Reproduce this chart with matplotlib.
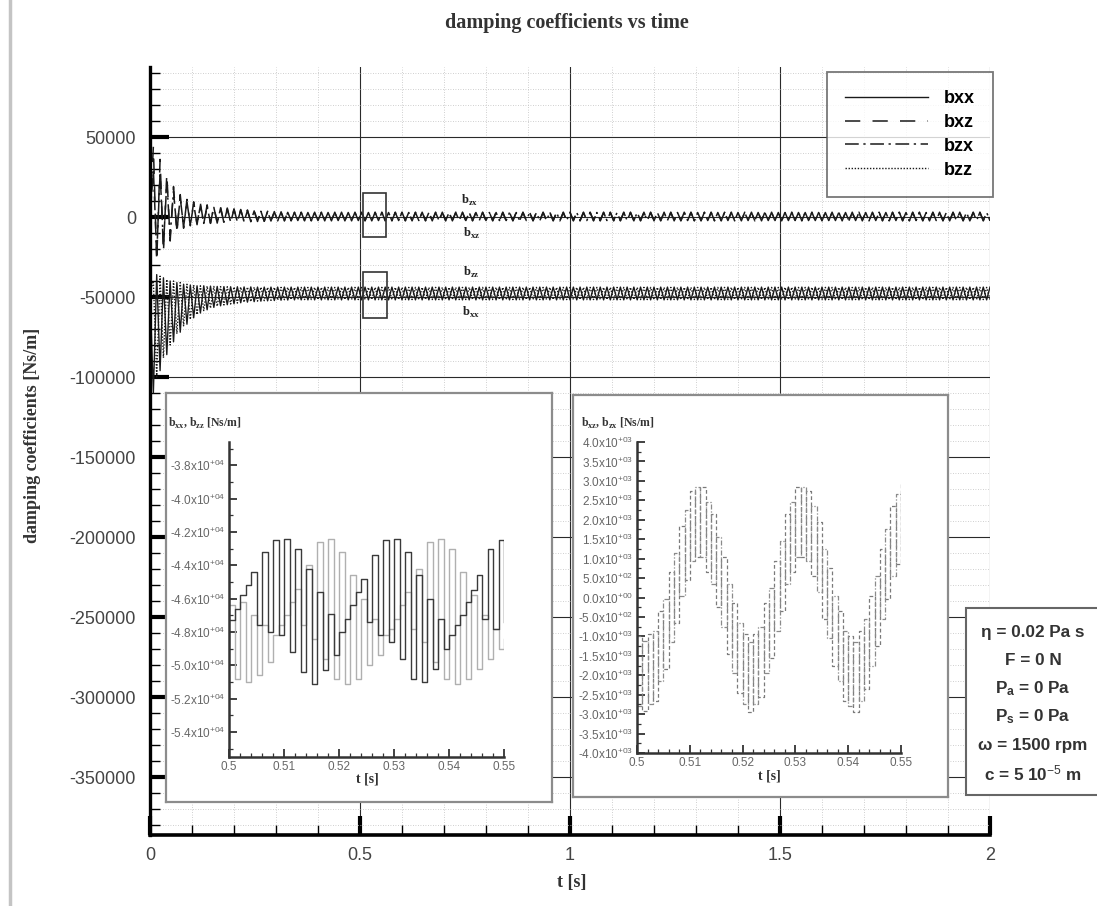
import numpy as np
import matplotlib
matplotlib.use('Agg')
import matplotlib.pyplot as plt
from matplotlib.ticker import MultipleLocator, FuncFormatter
from matplotlib.patches import Rectangle
from matplotlib.lines import Line2D

plt.rcParams['mathtext.fontset'] = 'custom'
plt.rcParams['mathtext.rm'] = 'Liberation Sans'
plt.rcParams['mathtext.it'] = 'Liberation Sans:italic'
plt.rcParams['mathtext.bf'] = 'Liberation Sans:bold'

SANS = 'Liberation Sans'
SERIF = 'Liberation Serif'

# ---------------- data (values in kNs/m) ----------------
# main chart: successive extremes of the visible oscillation, 0 .. 2 s
t_main = np.linspace(0.0, 2.0, 251)
bxz_main = [0.0, 44.0, -28.0, 36.0, -22.0, 27.0, -15.0, 19.0, -10.0, 14.0,
            -7.0, 11.0, -5.5, 9.5, -4.8, 8.5, -4.3, 7.6, -4.0, 6.8,
            -3.8, 6.2, -3.6, 5.6, -3.4, 5.1, -3.2, 4.7, -3.0, 4.4,
            -2.9, 4.1, -2.8, 3.8, -2.7, 3.6, -2.6, 3.4, -2.5, 3.2,
            -2.4, 3.1] + [-2.4, 3.0] * 104 + [-2.4]
bzx_main = [0.0, 30.0, -24.0, 28.0, -18.0, 22.0, -12.0, 16.0, -8.0, 12.0,
            -6.0, 9.5, -5.0, 8.0, -4.4, 7.2, -4.0, 6.5, -3.7, 6.0,
            -3.5, 5.5, -3.3, 5.0, -3.1, 4.6, -3.0, 4.3, -2.9, 4.0,
            -2.8, 3.8, -2.7, 3.6, -2.6, 3.4, -2.5, 3.2, -2.4, 3.0,
            -2.3, 2.9] + [-2.2, 2.8] * 104 + [-2.2]
bxx_main = [-47.0, -110.0, -36.0, -96.0, -38.0, -86.0, -40.0, -78.0, -41.0, -72.0,
            -42.0, -67.0, -42.5, -63.0, -43.0, -60.0, -43.0, -58.0, -43.2, -56.5,
            -43.4, -55.5, -43.5, -54.8, -43.6, -54.2, -43.6, -53.6, -43.7, -53.2,
            -43.7, -52.9, -43.8, -52.6, -43.8, -52.4, -43.8, -52.2, -43.8, -52.0,
            -43.8, -51.9] + [-43.8, -51.8] * 104 + [-43.8]
bzz_main = [-47.0, -40.0, -100.0, -37.0, -88.0, -39.0, -80.0, -40.0, -73.0, -41.0,
            -68.0, -42.0, -64.0, -42.5, -61.0, -43.0, -58.5, -43.2, -57.0, -43.4,
            -55.8, -43.5, -55.0, -43.6, -54.4, -43.7, -53.8, -43.8, -53.3, -43.8,
            -52.9, -43.9, -52.6, -43.9, -52.3, -44.0, -52.1, -44.0, -51.9, -44.0,
            -51.7, -44.0] + [-51.6, -44.0] * 104 + [-51.6]

# insets: 0.5 .. 0.55 s, one level per millisecond
t_zoom = np.linspace(0.5, 0.55, 51)
bxx_zoom = [-47.3, -46.6, -45.8, -45.2, -44.4, -47.6, -43.2, -48.0, -42.5, -48.2,
            -42.4, -49.2, -43.0, -50.4, -44.2, -51.1, -45.6, -50.3, -46.9, -49.4,
            -48.0, -47.2, -46.4, -45.6, -44.8, -47.4, -43.4, -48.2, -42.5, -48.6,
            -42.4, -49.6, -43.2, -50.8, -44.6, -51.0, -46.0, -50.2, -47.2, -49.0,
            -48.2, -47.6, -47.0, -46.2, -45.5, -44.6, -47.2, -43.0, -47.8, -42.5,
            -47.4]
bzz_zoom = [-46.4, -50.8, -46.2, -51.0, -47.0, -50.6, -47.6, -49.8, -48.2, -47.6,
            -47.0, -46.2, -45.4, -47.6, -44.0, -48.4, -42.6, -49.6, -42.4, -50.8,
            -43.2, -51.1, -44.6, -50.8, -46.0, -50.0, -47.2, -49.4, -48.2, -47.8,
            -47.2, -46.4, -45.6, -47.8, -44.2, -48.6, -42.6, -49.8, -42.4, -50.8,
            -43.0, -51.1, -44.4, -50.8, -45.8, -50.2, -47.0, -49.6, -47.8, -49.0,
            -48.4]
bxz_zoom = [-1.0, -2.93, -0.95, -2.65, -0.35, -1.85, 0.65, -0.65, 1.85, 0.45,
            2.75, 1.05, 2.85, 0.65, 2.15, -0.25, 1.05, -1.45, -0.15, -2.45,
            -0.95, -2.95, -0.95, -2.55, -0.15, -1.55, 0.95, -0.35, 2.15, 0.65,
            2.85, 1.05, 2.75, 0.55, 1.95, -0.55, 0.75, -1.75, -0.35, -2.65,
            -1.0, -2.95, -0.85, -2.35, 0.05, -1.25, 1.25, -0.05, 2.35, 0.85,
            2.95]
bzx_zoom = [-2.8, -1.13, -2.75, -0.85, -2.15, -0.05, -1.15, 1.15, 0.05, 2.25,
            0.95, 2.85, 1.05, 2.45, 0.35, 1.55, -0.75, 0.35, -1.95, -0.65,
            -2.75, -1.15, -2.75, -0.75, -1.95, 0.25, -0.85, 1.45, 0.35, 2.45,
            1.05, 2.85, 0.95, 2.35, 0.15, 1.25, -1.05, 0.05, -2.15, -0.85,
            -2.8, -1.15, -2.65, -0.55, -1.75, 0.55, -0.55, 1.75, 0.55, 2.65,
            1.15]

series_names = ['bxx', 'bxz', 'bzx', 'bzz']
params_lines = ['\u03b7 = 0.02 Pa s', 'F = 0 N', 'P$_{\\mathregular{a}}$ = 0 Pa',
                'P$_{\\mathregular{s}}$ = 0 Pa', '\u03c9 = 1500 rpm', 'c = 5 10$^{-5}$ m']

K = 1000.0  # kNs/m -> Ns/m

W, H = 1097, 906
def fx(px):
    return px / W
def fy(py):
    return 1 - py / H

fig = plt.figure(figsize=(W / 100, H / 100), dpi=100, facecolor='white')

# page edge artifact of the scan
fig.add_artist(Line2D([fx(10), fx(10)], [0, 1], transform=fig.transFigure,
                      color='#c4c4c4', lw=2.5, zorder=0))

# ---------------- main axes ----------------
ax = fig.add_axes([fx(150), fy(835), (990 - 150) / W, (835 - 67) / H], zorder=1)
styles = {'bxx': dict(ls='-', color='#1a1a1a', lw=1.0),
          'bxz': dict(ls=(0, (10, 8)), color='#1a1a1a', lw=1.1),
          'bzx': dict(ls=(0, (9, 3, 1.5, 3)), color='#1a1a1a', lw=1.1),
          'bzz': dict(ls=(0, (1, 1.2)), color='#1a1a1a', lw=1.0)}
data_main = {'bxx': bxx_main, 'bxz': bxz_main, 'bzx': bzx_main, 'bzz': bzz_main}
handles = []
for name in series_names:
    h, = ax.plot(t_main, np.asarray(data_main[name]) * K, label=name, **styles[name])
    handles.append(h)

ax.set_xlim(0, 2)
ax.set_ylim(-386250, 93750)
ax.xaxis.set_major_locator(MultipleLocator(0.5))
ax.xaxis.set_minor_locator(MultipleLocator(0.1))
ax.yaxis.set_major_locator(MultipleLocator(50000))
ax.yaxis.set_minor_locator(MultipleLocator(10000))
ax.xaxis.set_major_formatter(FuncFormatter(lambda v, p: f'{v:g}'))
ax.yaxis.set_major_formatter(FuncFormatter(lambda v, p: f'{int(round(v))}'))
ax.grid(which='major', color='#2a2a2a', lw=0.8, ls='-')
ax.grid(which='minor', color='#c0c0c0', lw=0.6, ls=(0, (1, 2)))
ax.set_axisbelow(True)
ax.tick_params(which='major', direction='in', length=14, width=3, color='black',
               labelsize=13, labelcolor='#444', top=False, right=False)
ax.tick_params(which='minor', direction='in', length=7, width=1.0, color='black',
               top=False, right=False)
ax.tick_params(axis='y', which='major', pad=10)
ax.tick_params(axis='x', which='major', pad=9)
for lab in ax.get_xticklabels() + ax.get_yticklabels():
    lab.set_fontfamily(SANS)
ax.spines['top'].set_visible(False)
ax.spines['right'].set_visible(False)
ax.spines['left'].set_linewidth(2.4)
ax.spines['bottom'].set_linewidth(2.6)

# zoom region boxes and labels
ax.add_patch(Rectangle((0.507, -12500), 0.055, 27500, fill=False, ec='#333', lw=1.2, zorder=3))
ax.add_patch(Rectangle((0.507, -63000), 0.058, 28500, fill=False, ec='#333', lw=1.2, zorder=3))
lab_kw = dict(fontfamily=SERIF, fontweight='bold', fontsize=9, ha='center', va='center', color='#222')
ax.text(0.762, 10600, 'b$_{\\mathregular{zx}}$', **lab_kw)
ax.text(0.765, -10000, 'b$_{\\mathregular{xz}}$', **lab_kw)
ax.text(0.765, -34400, 'b$_{\\mathregular{zz}}$', **lab_kw)
ax.text(0.765, -59400, 'b$_{\\mathregular{xx}}$', **lab_kw)

leg = ax.legend(handles=handles, loc='upper right',
                bbox_to_anchor=((993 - 150) / 840, (835 - 72) / 768),
                borderaxespad=0, frameon=True, fancybox=False, handlelength=4.6, handletextpad=0.9,
                labelspacing=0.38, borderpad=1.0,
                prop={'family': SANS, 'weight': 'bold', 'size': 13})
leg.get_frame().set_edgecolor('#555')
leg.get_frame().set_linewidth(1.3)
leg.set_zorder(6)

# ---------------- insets ----------------
def sci_fmt(v, p):
    if abs(v) < 1e-9:
        return '0.0x10$^{+00}$'
    e = int(np.floor(np.log10(abs(v)) + 1e-9))
    m = round(v / 10 ** e, 1)
    if abs(m) >= 10:
        m /= 10
        e += 1
    return f'{m:.1f}x10$^{{{e:+03d}}}$'

def panel(rect):
    p = fig.add_axes(rect, zorder=3)
    p.set_xticks([]); p.set_yticks([])
    for s in p.spines.values():
        s.set_color('#8c8c8c'); s.set_linewidth(1.6)
    p.set_facecolor('white')
    return p

def inner(rect, ylim, ymaj, ymin):
    a = fig.add_axes(rect, zorder=4)
    a.set_facecolor('white')
    a.set_xlim(0.5, 0.55)
    a.set_ylim(*ylim)
    a.xaxis.set_major_locator(MultipleLocator(0.01))
    a.xaxis.set_minor_locator(MultipleLocator(0.002))
    a.yaxis.set_major_locator(MultipleLocator(ymaj))
    a.yaxis.set_minor_locator(MultipleLocator(ymin))
    a.xaxis.set_major_formatter(FuncFormatter(lambda v, p: f'{round(v, 3):g}'))
    a.yaxis.set_major_formatter(FuncFormatter(sci_fmt))
    a.tick_params(which='major', direction='in', length=6, width=1.3, color='#333',
                  labelsize=8.5, labelcolor='#666', pad=3)
    a.tick_params(which='minor', direction='in', length=3, width=0.9, color='#333')
    for lab in a.get_xticklabels() + a.get_yticklabels():
        lab.set_fontfamily(SANS)
    a.spines['top'].set_visible(False)
    a.spines['right'].set_visible(False)
    a.spines['left'].set_linewidth(1.8); a.spines['left'].set_color('#333')
    a.spines['bottom'].set_linewidth(1.8); a.spines['bottom'].set_color('#333')
    return a

panel([fx(166), fy(802), (552 - 166) / W, (802 - 393) / H])
panel([fx(573), fy(797), (948 - 573) / W, (797 - 395) / H])

a1 = inner([fx(229), fy(757), (504 - 229) / W, (757 - 442) / H], (-55500, -36600), 2000, 1000)
a1.plot(t_zoom, np.asarray(bzz_zoom) * K, drawstyle='steps-post', color='#b0b0b0', lw=1.0)
a1.plot(t_zoom, np.asarray(bxx_zoom) * K, drawstyle='steps-post', color='#3a3a3a', lw=1.0)

a2 = inner([fx(637), fy(753), (901 - 637) / W, (753 - 442) / H], (-4000, 4000), 500, 250)
a2.plot(t_zoom, np.asarray(bxz_zoom) * K, drawstyle='steps-post', color='#7a7a7a', lw=0.9,
        ls=(0, (3, 2)))
a2.plot(t_zoom, np.asarray(bzx_zoom) * K, drawstyle='steps-post', color='#8a8a8a', lw=0.9,
        ls=(0, (4, 1.5, 1, 1.5)))

ser_kw = dict(fontfamily=SERIF, fontweight='bold', color='#333', zorder=10)
fig.text(fx(168), fy(423), 'b$_{\\mathregular{xx}}$, b$_{\\mathregular{zz}}$ [Ns/m]', fontsize=8.5,
         ha='left', va='center', **ser_kw)
fig.text(fx(581), fy(423), 'b$_{\\mathregular{xz}}$, b$_{\\mathregular{zx}}$ [Ns/m]', fontsize=8.5,
         ha='left', va='center', **ser_kw)
fig.text(fx(367), fy(779), 't [s]', fontsize=10, ha='center', va='center', **ser_kw)
fig.text(fx(769), fy(776), 't [s]', fontsize=10, ha='center', va='center', **ser_kw)

# ---------------- titles / labels ----------------
fig.text(fx(567), fy(23), 'damping coefficients vs time', fontsize=14.5, ha='center', va='center',
         **ser_kw)
fig.text(fx(572), fy(883), 't [s]', fontsize=13, ha='center', va='center', **ser_kw)
fig.text(fx(33), fy(435), 'damping coefficients [Ns/m]', fontsize=13, rotation=90,
         ha='center', va='center', **ser_kw)

# ---------------- parameter box (runs off the page edge, as in the scan) ----------------
fig.add_artist(Rectangle((fx(966), fy(795)), (1160 - 966) / W, (795 - 608) / H,
                         transform=fig.transFigure, fc='white', ec='#666', lw=1.5, zorder=8))
for i, line in enumerate(params_lines):
    fig.text(fx(1033), fy(632 + 28.3 * i), line, fontsize=12.3, fontfamily=SANS, fontweight='bold',
             ha='center', va='center', color='#333', zorder=10)

fig.savefig('out.png', dpi=100, facecolor='white')
